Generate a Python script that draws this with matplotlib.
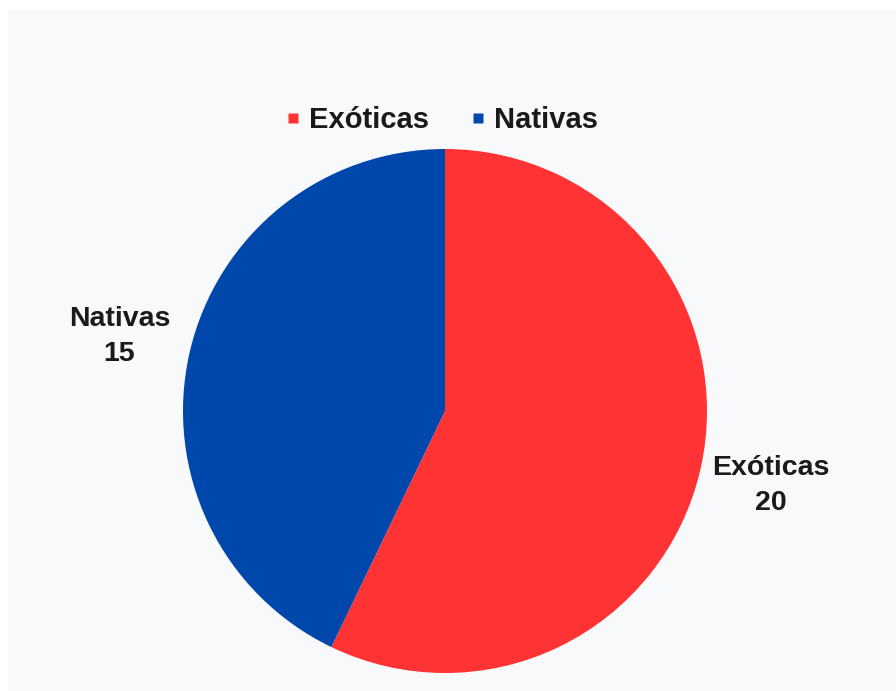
import matplotlib
matplotlib.use("Agg")
import matplotlib.pyplot as plt
from matplotlib.lines import Line2D
from matplotlib.patches import Rectangle

categories = ["Exóticas", "Nativas"]
values = [20, 15]
colors = ["#FF3333", "#0047AB"]

W, H = 896, 691
fig = plt.figure(figsize=(W / 100, H / 100), dpi=100)
fig.patch.set_facecolor("white")
fig.add_artist(Rectangle((8 / W, 0), 1, 1 - 10 / H, transform=fig.transFigure,
                         facecolor="#F8F9FB", edgecolor="none", zorder=0))

cx, cy, r = 445, 411, 262
ax = fig.add_axes([(cx - r) / W, (H - cy - r) / H, 2 * r / W, 2 * r / H])
ax.set_aspect("equal")
ax.axis("off")

labels = [f"{c}\n{v}" for c, v in zip(categories, values)]
ax.pie(values, colors=colors, startangle=90, counterclock=False,
       labels=labels, labeldistance=1.275, radius=1,
       textprops=dict(ha="center", va="center", multialignment="center",
                      fontsize=20.5, fontweight="bold", color="#1a1a1a",
                      family="Liberation Sans", linespacing=1.45),
       wedgeprops=dict(linewidth=0))
ax.set_xlim(-1, 1)
ax.set_ylim(-1, 1)

handles = [Line2D([], [], marker="s", linestyle="none", markersize=6.5,
                  markerfacecolor=c, markeredgecolor="none") for c in colors]
fig.legend(handles, categories, loc="center", bbox_to_anchor=(441 / W, 1 - 120 / H),
           ncol=2, frameon=False, handlelength=0.6, handletextpad=0.25,
           columnspacing=1.4,
           prop=dict(size=21, weight="bold", family="Liberation Sans"),
           labelcolor="#1a1a1a")

fig.savefig("out.png", dpi=100, facecolor=fig.get_facecolor())
